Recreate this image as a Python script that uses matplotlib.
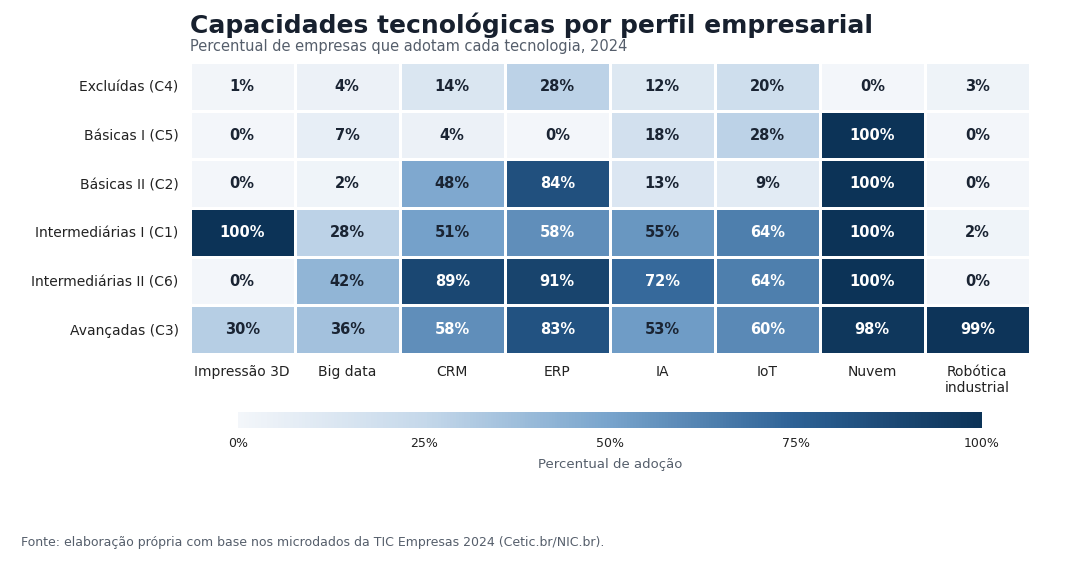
import matplotlib.pyplot as plt
import numpy as np
from matplotlib.colors import LinearSegmentedColormap

rows = ['Excluídas (C4)', 'Básicas I (C5)', 'Básicas II (C2)', 'Intermediárias I (C1)',
        'Intermediárias II (C6)', 'Avançadas (C3)']
cols = ['Impressão 3D', 'Big data', 'CRM', 'ERP', 'IA', 'IoT', 'Nuvem', 'Robótica\nindustrial']
values = np.array([
    [1, 4, 14, 28, 12, 20, 0, 3],
    [0, 7, 4, 0, 18, 28, 100, 0],
    [0, 2, 48, 84, 13, 9, 100, 0],
    [100, 28, 51, 58, 55, 64, 100, 2],
    [0, 42, 89, 91, 72, 64, 100, 0],
    [30, 36, 58, 83, 53, 60, 98, 99],
])

cmap = LinearSegmentedColormap.from_list(
    'blues', ['#f3f6fa', '#c5d8ea', '#78a4cc', '#2d6195', '#0c3357'])

fig = plt.figure(figsize=(10.66, 5.74), dpi=100)
ax = fig.add_axes([0.178, 0.383, 0.788, 0.509])
im = ax.pcolormesh(values, cmap=cmap, vmin=0, vmax=100, edgecolors='white', linewidth=2)
ax.invert_yaxis()
ax.set_xticks(np.arange(len(cols)) + 0.5)
ax.set_xticklabels(cols, fontsize=10, color='#222')
ax.set_yticks(np.arange(len(rows)) + 0.5)
ax.set_yticklabels(rows, fontsize=10, color='#222')
ax.tick_params(length=0, pad=8)
for s in ax.spines.values():
    s.set_visible(False)

for i in range(len(rows)):
    for j in range(len(cols)):
        v = values[i, j]
        ax.text(j + 0.5, i + 0.5, f'{v}%', ha='center', va='center', fontsize=10.5,
                fontweight='bold', color='white' if v > 56 else '#1a2433')

cax = fig.add_axes([0.223, 0.254, 0.698, 0.028])
cb = fig.colorbar(im, cax=cax, orientation='horizontal')
cb.set_ticks([0, 25, 50, 75, 100])
cb.set_ticklabels(['0%', '25%', '50%', '75%', '100%'])
cb.outline.set_visible(False)
cax.tick_params(length=0, labelsize=9, colors='#222', pad=6)
cb.set_label('Percentual de adoção', fontsize=9.5, color='#555e6b', labelpad=6)

fig.text(0.178, 0.943, 'Capacidades tecnológicas por perfil empresarial', fontsize=18,
         fontweight='bold', color='#17202e')
fig.text(0.178, 0.912, 'Percentual de empresas que adotam cada tecnologia, 2024', fontsize=10.5,
         color='#555e6b')
fig.text(0.02, 0.048, 'Fonte: elaboração própria com base nos microdados da TIC Empresas 2024 (Cetic.br/NIC.br).',
         fontsize=9, color='#555e6b')

fig.savefig('out.png', dpi=100, facecolor='white')
